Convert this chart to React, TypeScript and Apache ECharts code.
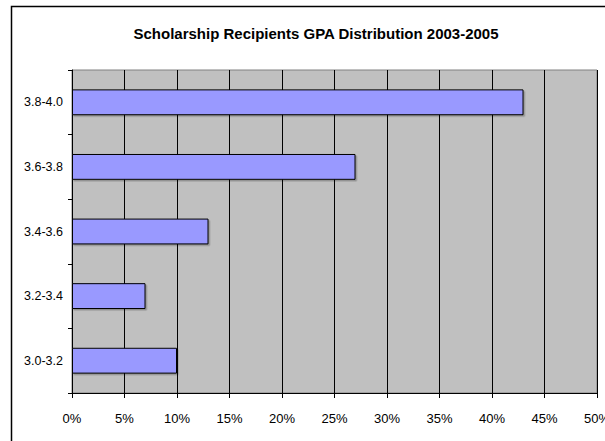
import React, { useEffect, useRef } from "react";
import * as echarts from "echarts";

const categories = ["3.0-3.2", "3.2-3.4", "3.4-3.6", "3.6-3.8", "3.8-4.0"];
const values = [10, 7, 13, 27, 43];
const titleText = "Scholarship Recipients GPA Distribution 2003-2005";

const FONT = "'Liberation Sans', Arial, sans-serif";

export default function App() {
  const ref = useRef<HTMLDivElement>(null);
  useEffect(() => {
    if (!ref.current) return;
    const chart = echarts.init(ref.current, undefined, { renderer: "svg" });
    chart.setOption({
      animation: false,
      backgroundColor: "#ffffff",
      title: {
        text: titleText,
        left: 311,
        textAlign: "center",
        top: 21,
        textStyle: { fontFamily: FONT, fontWeight: "bold", fontSize: 15, color: "#000" },
      },
      graphic: [
        {
          type: "polyline",
          shape: { points: [[11.5, 460], [11.5, 6.5], [620, 6.5]] },
          style: { stroke: "#000", lineWidth: 1.5, fill: "none" },
          silent: true,
        },
      ],
      grid: {
        left: 72,
        top: 70,
        width: 525,
        height: 323,
        containLabel: false,
        outerBoundsMode: "none",
        show: true,
        backgroundColor: "#C0C0C0",
        borderColor: "#808080",
        borderWidth: 1,
      },
      xAxis: {
        type: "value",
        min: 0,
        max: 50,
        interval: 5,
        axisLine: { show: true, lineStyle: { color: "#000", width: 1 } },
        axisTick: { show: true, length: 5, lineStyle: { color: "#000" } },
        splitLine: { show: true, lineStyle: { color: "#000", width: 1 } },
        axisLabel: {
          formatter: "{value}%",
          margin: 19,
          color: "#000",
          fontFamily: FONT,
          fontSize: 13,
          showMaxLabel: true,
          hideOverlap: false,
        },
      },
      yAxis: {
        type: "category",
        data: categories,
        axisLine: { show: true, lineStyle: { color: "#000", width: 1 } },
        axisTick: { show: true, length: 4, inside: false, lineStyle: { color: "#000" } },
        splitLine: { show: false },
        axisLabel: {
          margin: 9,
          color: "#000",
          fontFamily: FONT,
          fontSize: 12.5,
        },
      },
      series: [
        {
          type: "bar",
          data: values,
          barCategoryGap: "60%",
          itemStyle: {
            color: "#9999FF",
            borderColor: "#000",
            borderWidth: 1,
            shadowColor: "rgba(0,0,0,0.25)",
            shadowOffsetX: 1.5,
            shadowOffsetY: 1.5,
            shadowBlur: 0,
          },
        },
      ],
    });
    return () => chart.dispose();
  }, []);
  return (
    <div
      ref={ref}
      style={{ position: "fixed", left: 0, top: 0, width: 605, height: 441 }}
    />
  );
}
